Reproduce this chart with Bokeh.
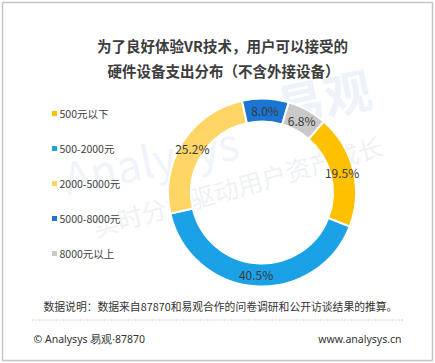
import numpy as np
from bokeh.plotting import figure
from bokeh.models import Range1d, ColumnDataSource
from bokeh.core.properties import value
from bokeh.embed import file_html
from bokeh.resources import INLINE

# ---- data ----
categories = ["500元以下", "500-2000元", "2000-5000元", "5000-8000元", "8000元以上"]
shares = [19.5, 40.5, 25.2, 8.0, 6.8]
labels = ["19.5%", "40.5%", "25.2%", "8.0%", "6.8%"]
colors = ["#FFC000", "#1BA1E6", "#FFD566", "#1A76D2", "#C9C9C9"]
title_lines = ["为了良好体验VR技术，用户可以接受的", "硬件设备支出分布（不含外接设备）"]
note_text = "数据说明：数据来自87870和易观合作的问卷调研和公开访谈结果的推算。"
footer_left = "© Analysys 易观·87870"
footer_right = "www.analysys.cn"

FONT = "Noto Sans CJK SC"
W, H = 435, 363

def sy(y):
    return H - y

p = figure(width=W, height=H, output_backend="svg", toolbar_location=None,
           x_range=Range1d(0, W), y_range=Range1d(0, H), min_border=0)
p.axis.visible = False
p.grid.visible = False
p.outline_line_color = None
p.background_fill_color = "white"
p.border_fill_color = "white"

# ---- frame ----
p.quad(left=[2], right=[432], bottom=[sy(360)], top=[sy(2)], fill_color=None,
       line_color="#C4C4C4", line_width=1.5)

# ---- faint watermark ----
p.text(x=[150], y=[sy(158)], text=["Analysys"], angle=np.radians(12),
       text_font=value(FONT), text_font_size=value("44px"), text_color="#DCE8F4",
       text_align="center", text_baseline="middle", text_alpha=0.45)
p.text(x=[323], y=[sy(95)], text=["易观"], angle=np.radians(12),
       text_font=value(FONT), text_font_size=value("48px"), text_color="#DCE8F4",
       text_align="center", text_baseline="middle", text_font_style="bold", text_alpha=0.5)
p.text(x=[237], y=[sy(185)], text=["实时分析驱动用户资产成长"], angle=np.radians(16),
       text_font=value(FONT), text_font_size=value("25px"), text_color="#E4E8EC",
       text_align="center", text_baseline="middle", text_alpha=0.6)

# ---- donut ----
CX, CY = 261.5, 192.0
R_OUT, R_IN = 94, 71
OFFSET = 41.0  # degrees clockwise from top where first slice begins
vals = np.array(shares)
cum = np.concatenate([[0], np.cumsum(vals)]) / vals.sum() * 360.0
t0 = OFFSET + cum[:-1]
t1 = OFFSET + cum[1:]
start = np.radians(90 - t0)
end = np.radians(90 - t1)
src = ColumnDataSource(dict(start=start, end=end, color=colors, cat=categories))
p.annular_wedge(x=CX, y=sy(CY), inner_radius=R_IN, outer_radius=R_OUT,
                start_angle="start", end_angle="end", direction="clock",
                fill_color="color", line_color="white", line_width=2, source=src)

tm = np.radians((t0 + t1) / 2)
rm = (R_IN + R_OUT) / 2
lx = CX + rm * np.sin(tm)
ly = sy(CY) + rm * np.cos(tm)
p.text(x=lx, y=ly, text=labels, text_font=value(FONT), text_font_size=value("12px"),
       text_color="#3A3A3A", text_align="center", text_baseline="middle")

# ---- title ----
p.text(x=[222, 223], y=[sy(45), sy(70)], text=title_lines, text_font=value(FONT),
       text_font_size=value("14.5px"), text_font_style="bold", text_color="#3C3C3C",
       text_align="center", text_baseline="middle")

# ---- legend ----
leg_y = [sy(113 + 35 * i) for i in range(len(categories))]
p.scatter(x=[54] * len(categories), y=leg_y, marker="square", size=5,
          fill_color=colors, line_color=None)
p.text(x=[59] * len(categories), y=leg_y, text=categories, text_font=value(FONT),
       text_font_size=value("10.5px"), text_color="#404040",
       text_align="left", text_baseline="middle")

# ---- note and footer ----
p.text(x=[43], y=[sy(305)], text=[note_text], text_font=value(FONT),
       text_font_size=value("10.8px"), text_color="#333333",
       text_align="left", text_baseline="middle")
p.line(x=[32, 403], y=[sy(319.5), sy(319.5)], line_color="#A0A0A0",
       line_width=1, line_dash="1 2")
p.text(x=[33], y=[sy(338)], text=[footer_left], text_font=value("Noto Sans"),
       text_font_size=value("10.5px"), text_color="#333333",
       text_align="left", text_baseline="middle")
p.text(x=[401], y=[sy(338)], text=[footer_right], text_font=value("Noto Sans"),
       text_font_size=value("10.5px"), text_color="#333333",
       text_align="right", text_baseline="middle")

open("out.html", "w").write(file_html(p, INLINE))
